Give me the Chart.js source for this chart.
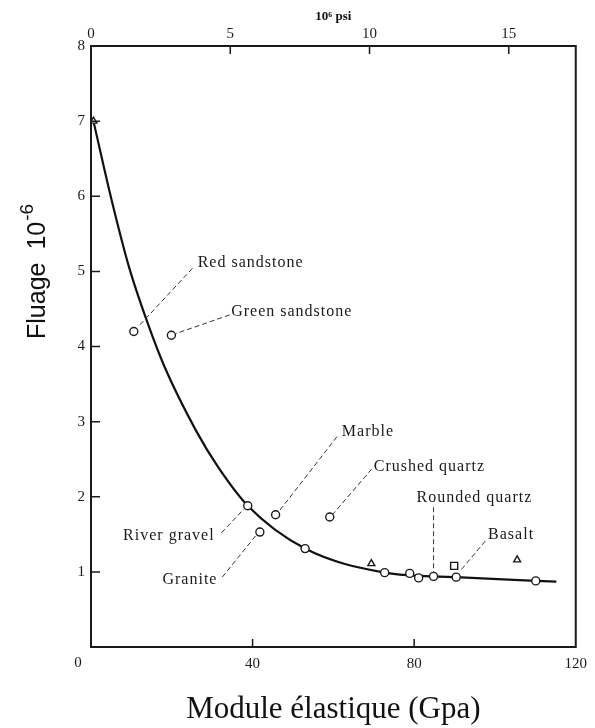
<!DOCTYPE html>
<html>
<head>
<meta charset="utf-8">
<script src="https://cdn.jsdelivr.net/npm/chart.js@4.4.1/dist/chart.umd.min.js"></script>
<style>
  html, body { margin: 0; padding: 0; background: #fff; }
  #wrap { width: 595px; height: 728px; position: relative; }
</style>
</head>
<body>
<div id="wrap"><canvas id="creep"></canvas></div>
<script>
// fitted creep curve, GPa vs creep (10^-6)
const curveX = [0.6, 5.1, 9.4, 14.1, 18.2, 26.0, 31.4, 38.8, 53.0, 72.7, 84.8, 90.4, 110.1, 115.2];
const curveY = [7.0, 5.95, 5.06, 4.30, 3.73, 2.88, 2.40, 1.88, 1.31, 0.99, 0.94, 0.93, 0.88, 0.87];

// aggregates (open circles)
const circleX = [10.6, 19.9, 38.8, 41.8, 45.7, 53.0, 59.1, 72.7, 78.9, 81.1, 84.8, 90.4, 110.1];
const circleY = [4.20, 4.15, 1.88, 1.53, 1.76, 1.31, 1.73, 0.99, 0.98, 0.92, 0.94, 0.93, 0.88];

const triangleX = [0.6, 69.4, 105.5];
const triangleY = [7.0, 1.11, 1.16];

const squareX = [89.9];
const squareY = [1.08];

const bottomTicks = [0, 40, 80, 120];
const topTicks = [0, 5, 10, 15];
const GPA_PER_MPSI = 6.895;

// callout text + leader line, in data units of the bottom/left axes
const callouts = [
  { text: "Red sandstone",   tx: 26.4, ty: 5.12, align: "left",  from: [25.1, 5.04], to: [11.8, 4.27] },
  { text: "Green sandstone", tx: 34.7, ty: 4.46, align: "left",  from: [34.3, 4.42], to: [20.9, 4.17] },
  { text: "River gravel",    tx: 30.6, ty: 1.48, align: "right", from: [32.3, 1.52], to: [37.9, 1.84] },
  { text: "Granite",         tx: 31.3, ty: 0.89, align: "right", from: [32.5, 0.93], to: [40.9, 1.49] },
  { text: "Marble",          tx: 62.1, ty: 2.86, align: "left",  from: [60.9, 2.80], to: [46.6, 1.81] },
  { text: "Crushed quartz",  tx: 70.0, ty: 2.40, align: "left",  from: [69.5, 2.37], to: [59.9, 1.77] },
  { text: "Rounded quartz",  tx: 80.6, ty: 1.98, align: "left",  from: [84.8, 1.86], to: [84.8, 1.00] },
  { text: "Basalt",          tx: 98.3, ty: 1.49, align: "left",  from: [97.6, 1.41], to: [91.2, 1.00] }
];

const toPoints = (xs, ys) => xs.map((x, i) => ({ x, y: ys[i] }));

const serif = '"Liberation Serif", "Times New Roman", serif';
Chart.defaults.font.family = serif;
Chart.defaults.color = "#1a1a1a";

const frameAndTicks = {
  id: "frameAndTicks",
  afterDraw(chart) {
    const { ctx, chartArea: { left, right, top, bottom } } = chart;
    const { x, x2, y } = chart.scales;
    ctx.save();
    ctx.strokeStyle = "#1a1a1a";
    ctx.lineWidth = 2;
    ctx.strokeRect(left, top, right - left, bottom - top);

    ctx.lineWidth = 1.5;
    ctx.beginPath();
    for (let v = 1; v <= 7; v++) {
      const py = y.getPixelForValue(v);
      ctx.moveTo(left, py);
      ctx.lineTo(left + 9, py);
    }
    [40, 80].forEach(v => {
      const px = x.getPixelForValue(v);
      ctx.moveTo(px, bottom);
      ctx.lineTo(px, bottom - 8);
    });
    [5, 10, 15].forEach(v => {
      const px = x2.getPixelForValue(v);
      ctx.moveTo(px, top);
      ctx.lineTo(px, top + 8);
    });
    ctx.stroke();

    // shared origin label, below and left of the corner
    ctx.fillStyle = "#1a1a1a";
    ctx.font = "15px " + serif;
    ctx.textAlign = "center";
    ctx.textBaseline = "middle";
    ctx.fillText("0", left - 13, bottom + 16);

    // y axis title with superscript exponent
    ctx.textAlign = "left";
    ctx.translate(45, 339);
    ctx.rotate(-Math.PI / 2);
    ctx.fillStyle = "#111";
    ctx.textBaseline = "alphabetic";
    ctx.font = '25px "Liberation Sans", Arial, sans-serif';
    ctx.fillText("Fluage", 0, 0);
    let w = ctx.measureText("Fluage").width + 13;
    ctx.fillText("10", w, 0);
    w += ctx.measureText("10").width + 1;
    ctx.font = '19px "Liberation Sans", Arial, sans-serif';
    ctx.fillText("-6", w, -12);
    ctx.restore();
  }
};

const calloutPlugin = {
  id: "callouts",
  afterDatasetsDraw(chart) {
    const { ctx } = chart;
    const { x, y } = chart.scales;
    ctx.save();
    ctx.strokeStyle = "#333";
    ctx.lineWidth = 1;
    ctx.setLineDash([5, 3]);
    callouts.forEach(c => {
      ctx.beginPath();
      ctx.moveTo(x.getPixelForValue(c.from[0]), y.getPixelForValue(c.from[1]));
      ctx.lineTo(x.getPixelForValue(c.to[0]), y.getPixelForValue(c.to[1]));
      ctx.stroke();
    });
    ctx.setLineDash([]);
    ctx.fillStyle = "#1a1a1a";
    ctx.font = "16px " + serif;
    ctx.letterSpacing = "1px";
    ctx.textBaseline = "middle";
    callouts.forEach(c => {
      ctx.textAlign = c.align;
      ctx.fillText(c.text, x.getPixelForValue(c.tx), y.getPixelForValue(c.ty));
    });
    ctx.restore();
  }
};

const marker = {
  showLine: false,
  pointBackgroundColor: "#fff",
  pointBorderColor: "#1a1a1a",
  pointBorderWidth: 1.4
};

new Chart(document.getElementById("creep"), {
  type: "scatter",
  data: {
    datasets: [
      { ...marker, label: "circles", data: toPoints(circleX, circleY), pointStyle: "circle", pointRadius: 4 },
      { ...marker, label: "triangles", data: toPoints(triangleX, triangleY), pointStyle: "triangle", pointRadius: 4 },
      { ...marker, label: "squares", data: toPoints(squareX, squareY), pointStyle: "rect", pointRadius: 5 },
      {
        label: "curve",
        data: toPoints(curveX, curveY),
        showLine: true,
        borderColor: "#111",
        borderWidth: 2.2,
        pointRadius: 0,
        cubicInterpolationMode: "monotone"
      }
    ]
  },
  options: {
    responsive: true,
    maintainAspectRatio: false,
    animation: false,
    layout: { padding: { right: 17 } },
    plugins: { legend: { display: false }, tooltip: { enabled: false } },
    scales: {
      x: {
        type: "linear",
        position: "bottom",
        min: 0,
        max: 120,
        afterBuildTicks: s => { s.ticks = bottomTicks.map(v => ({ value: v })); },
        afterFit: s => { s.height = 81; },
        grid: { display: false, drawTicks: false },
        border: { display: false },
        ticks: { padding: 8, font: { size: 15 }, maxRotation: 0, callback: v => (v === 0 ? "" : v) },
        title: {
          display: true,
          text: "Module élastique (Gpa)",
          font: { size: 31, family: serif },
          color: "#111",
          padding: { top: 0, bottom: 0 }
        }
      },
      x2: {
        type: "linear",
        position: "top",
        min: 0,
        max: 120 / GPA_PER_MPSI,
        afterBuildTicks: s => { s.ticks = topTicks.map(v => ({ value: v })); },
        afterFit: s => { s.height = 46; },
        grid: { display: false, drawTicks: false },
        border: { display: false },
        ticks: { padding: 3, font: { size: 15 }, maxRotation: 0 },
        title: {
          display: true,
          text: "10⁶ psi",
          font: { size: 13, weight: "bold", family: serif },
          color: "#111",
          padding: { top: 9, bottom: 0 }
        }
      },
      y: {
        min: 0,
        max: 8,
        afterFit: s => { s.width = 91; },
        grid: { display: false, drawTicks: false },
        border: { display: false },
        ticks: { stepSize: 1, padding: 6, font: { size: 15 }, callback: v => (v === 0 ? "" : v) }
      }
    }
  },
  plugins: [frameAndTicks, calloutPlugin]
});
</script>
</body>
</html>
